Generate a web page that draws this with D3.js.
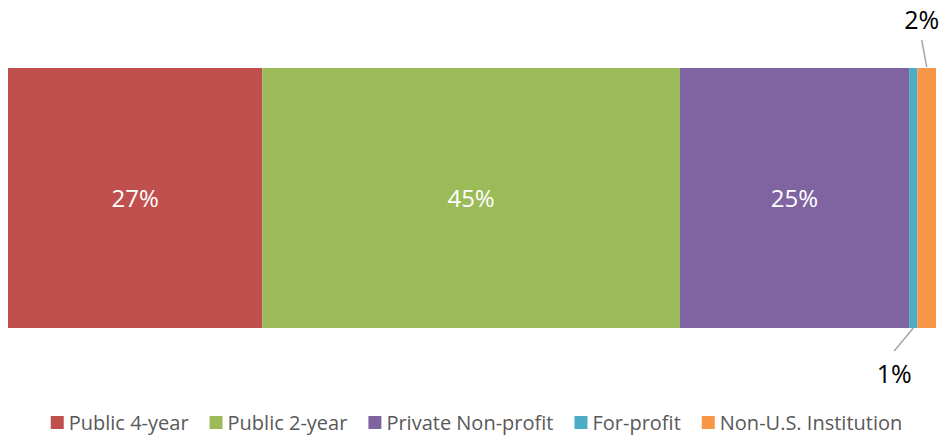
<!DOCTYPE html>
<html>
<head>
<meta charset="utf-8">
<script src="https://cdn.jsdelivr.net/npm/d3@7"></script>
<style>
  body { margin: 0; background: #fff; }
  svg { font-family: "Open Sans", "Liberation Sans", sans-serif; }
</style>
</head>
<body>
<div id="chart"></div>
<script>
// Data
var categories = ["Public 4-year", "Public 2-year", "Private Non-profit", "For-profit", "Non-U.S. Institution"];
var values = [27.4, 45.0, 24.7, 0.9, 2.0];
var labels = ["27%", "45%", "25%", "1%", "2%"];
var colors = ["#c0504d", "#9bbb59", "#8064a2", "#4bacc6", "#f79646"];

var width = 941, height = 437;
var margin = { left: 8, right: 5, top: 68, bottom: 109 };

var svg = d3.select("#chart")
    .append("svg")
    .attr("width", width)
    .attr("height", height);

var total = d3.sum(values);
var x = d3.scaleLinear()
    .domain([0, total])
    .range([margin.left, width - margin.right]);

var y = d3.scaleBand()
    .domain(["all"])
    .range([margin.top, height - margin.bottom])
    .padding(0);

// stacked segments
var stack = [];
var acc = 0;
values.forEach(function (v, i) {
    stack.push({ cat: categories[i], v: v, x0: acc, x1: acc + v, label: labels[i], color: colors[i] });
    acc += v;
});

svg.append("g")
    .selectAll("rect")
    .data(stack)
    .enter()
    .append("rect")
    .attr("x", function (d) { return x(d.x0); })
    .attr("y", y("all"))
    .attr("width", function (d) { return x(d.x1) - x(d.x0); })
    .attr("height", y.bandwidth())
    .attr("fill", function (d) { return d.color; });

// labels inside the big segments
svg.append("g")
    .selectAll("text")
    .data(stack.slice(0, 3))
    .enter()
    .append("text")
    .attr("x", function (d) { return (x(d.x0) + x(d.x1)) / 2; })
    .attr("y", y("all") + y.bandwidth() / 2 + 9)
    .attr("text-anchor", "middle")
    .attr("fill", "#fff")
    .style("font-size", "24px")
    .text(function (d) { return d.label; });

// callouts for the small segments
var small = stack[3], tiny = stack[4];
var cxSmall = (x(small.x0) + x(small.x1)) / 2;
svg.append("line")
    .attr("x1", cxSmall).attr("y1", y("all") + y.bandwidth())
    .attr("x2", cxSmall - 19).attr("y2", y("all") + y.bandwidth() + 23)
    .attr("stroke", "#a6a6a6").attr("stroke-width", 1.5);
svg.append("text")
    .attr("x", cxSmall - 19).attr("y", 383)
    .attr("text-anchor", "middle")
    .attr("fill", "#000")
    .style("font-size", "25px")
    .text(small.label);

var cxTiny = (x(tiny.x0) + x(tiny.x1)) / 2;
svg.append("line")
    .attr("x1", cxTiny - 5).attr("y1", 40)
    .attr("x2", cxTiny).attr("y2", y("all") - 1)
    .attr("stroke", "#a6a6a6").attr("stroke-width", 1.5);
svg.append("text")
    .attr("x", cxTiny - 5).attr("y", 29)
    .attr("text-anchor", "middle")
    .attr("fill", "#000")
    .style("font-size", "25px")
    .text(tiny.label);

// legend
var legend = svg.append("g");
var items = legend.selectAll("g")
    .data(stack)
    .enter()
    .append("g");
items.append("rect")
    .attr("width", 13).attr("height", 13)
    .attr("y", 416)
    .attr("fill", function (d) { return d.color; });
items.append("text")
    .attr("x", 18).attr("y", 430)
    .attr("fill", "#595959")
    .style("font-size", "20px")
    .text(function (d) { return d.cat; });

var gap = 21, pos = 0, offsets = [];
items.each(function (d, i) {
    offsets.push(pos);
    var w = d3.select(this).select("text").node().getComputedTextLength();
    pos += 18 + w + gap;
});
var legendWidth = pos - gap;
var start = (51 + 902 - legendWidth) / 2;
items.attr("transform", function (d, i) { return "translate(" + (start + offsets[i]) + ",0)"; });
</script>
</body>
</html>
